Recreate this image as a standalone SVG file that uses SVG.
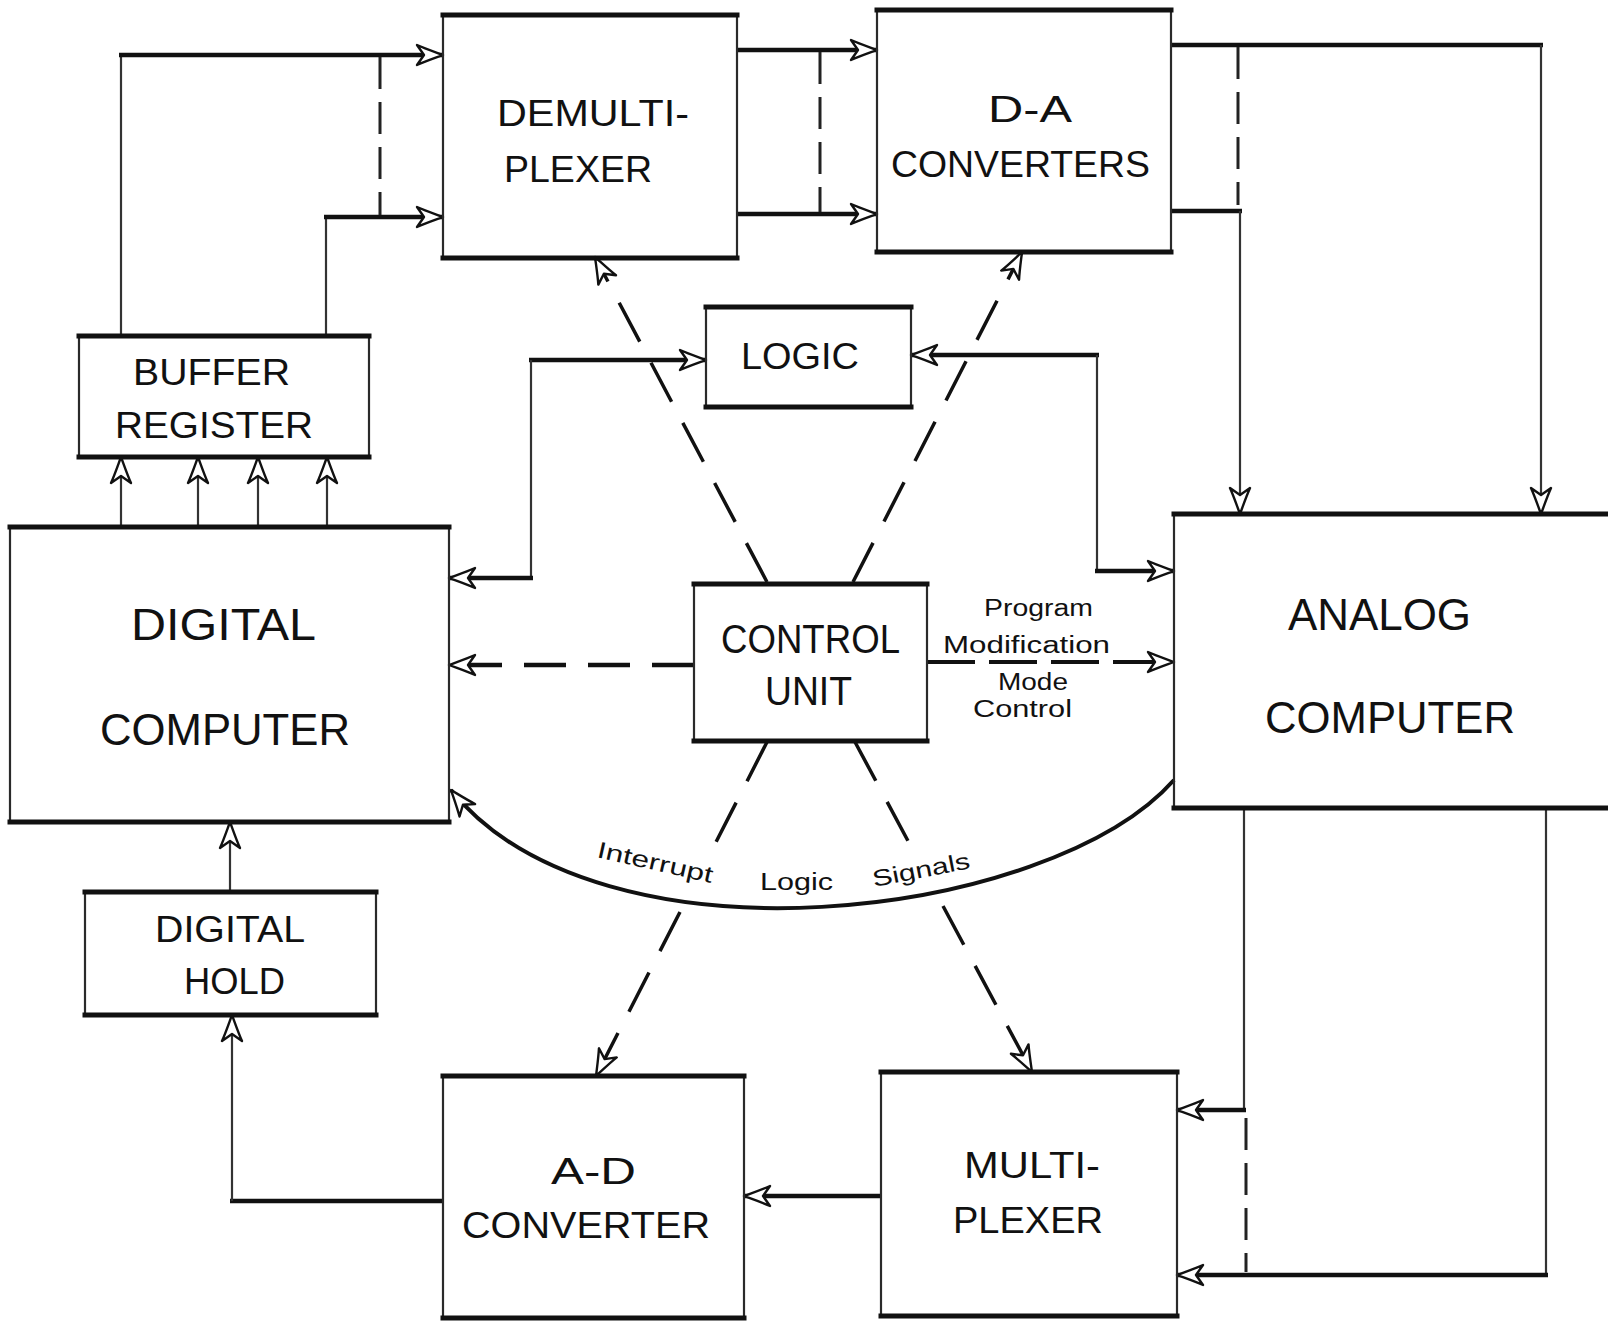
<svg xmlns="http://www.w3.org/2000/svg" width="1608" height="1321" viewBox="0 0 1608 1321">
<style>
.bg{fill:#fff}
.box{fill:none;stroke:#2a2a2a;stroke-width:2.2}
.edge{stroke:#111;stroke-width:5;stroke-linecap:square}
.big{font-family:"Liberation Sans","DejaVu Sans",sans-serif;font-size:37px;fill:#111}
.huge{font-family:"Liberation Sans","DejaVu Sans",sans-serif;font-size:44px;fill:#111}
.small{font-family:"Liberation Sans","DejaVu Sans",sans-serif;font-size:23px;fill:#111}
.h{fill:none;stroke:#111;stroke-width:4.5}
.v{fill:none;stroke:#333;stroke-width:2.2}
.dsh{fill:none;stroke:#111;stroke-width:3.5;stroke-dasharray:44 24}
.bus{fill:none;stroke:#222;stroke-width:3;stroke-dasharray:32 13}
.arr{marker-end:url(#ah)}
.curve{fill:none;stroke:#111;stroke-width:4}
</style>
<defs>
<marker id="ah" viewBox="-30 -12 32 24" refX="0" refY="0" markerWidth="32" markerHeight="24" markerUnits="userSpaceOnUse" orient="auto">
<path d="M0,0 C-8,-3 -17,-6 -26,-10 L-19,0 L-26,10 C-17,6 -8,3 0,0 Z" fill="#fff" stroke="#111" stroke-width="2.4" stroke-linejoin="round"/>
</marker>
</defs>
<rect class="bg" x="0" y="0" width="1608" height="1321"/>

<g id="connectors">
  <!-- buffer register to demultiplexer -->
  <path class="v" d="M121,336 V55"/>
  <path class="h arr" d="M119,55 H443"/>
  <path class="v" d="M326,336 V217"/>
  <path class="h arr" d="M324,217 H443"/>
  <path class="bus" d="M380,57 V215"/>
  <!-- demultiplexer to D-A -->
  <path class="h arr" d="M737,50 H877"/>
  <path class="h arr" d="M737,214 H877"/>
  <path class="bus" d="M820,52 V212"/>
  <!-- D-A to analog -->
  <path class="h" d="M1171,45 H1543"/>
  <path class="v arr" d="M1541,45 V514"/>
  <path class="h" d="M1171,211 H1242"/>
  <path class="v arr" d="M1240,211 V514"/>
  <path class="bus" d="M1238,47 V205"/>
  <!-- digital computer <-> logic -->
  <path class="h arr" d="M529,360 H706"/>
  <path class="v" d="M531,360 V578"/>
  <path class="h arr" d="M533,578 H449"/>
  <!-- logic <-> analog -->
  <path class="h arr" d="M1099,355 H911"/>
  <path class="v" d="M1097,355 V571"/>
  <path class="h arr" d="M1095,571 H1174"/>
  <!-- control unit dashed -->
  <path class="dsh arr" style="stroke-width:4.5;stroke-dasharray:42 22" d="M694,665 H449"/>
  <path class="dsh arr" style="stroke-width:4;stroke-dasharray:48 14" d="M927,662 H1174"/>
  <path class="dsh arr" d="M767,582 L595,257"/>
  <path class="dsh arr" d="M853,582 L1022,252"/>
  <path class="dsh" d="M767,742 L713,848"/>
  <path class="dsh arr" d="M680,912 L596,1076"/>
  <path class="dsh" d="M855,742 L908.6,842"/>
  <path class="dsh arr" d="M943,906 L1032,1072"/>
  <!-- interrupt curve -->
  <path class="curve arr" d="M1174,780 C1050,920 600,975 451,790"/>
  <!-- digital computer to buffer -->
  <path class="v arr" d="M121,527 V457"/>
  <path class="v arr" d="M198,527 V457"/>
  <path class="v arr" d="M258,527 V457"/>
  <path class="v arr" d="M327,527 V457"/>
  <!-- digital hold to digital computer -->
  <path class="v arr" d="M230,892 V822"/>
  <!-- A-D to digital hold -->
  <path class="h" d="M443,1201 H230"/>
  <path class="v arr" d="M232,1201 V1015"/>
  <!-- multiplexer to A-D -->
  <path class="h arr" d="M881,1196 H744"/>
  <!-- analog to multiplexer -->
  <path class="v" d="M1244,808 V1110"/>
  <path class="h arr" d="M1246,1110 H1177"/>
  <path class="v" d="M1546,808 V1275"/>
  <path class="h arr" d="M1548,1275 H1177"/>
  <path class="bus" d="M1246,1118 V1272"/>
</g>

<g id="demultiplexer">
  <rect class="box" x="443" y="15" width="294" height="243"/>
  <path class="edge" d="M443,15 H737 M443,258 H737"/>
  <text class="big" x="497" y="126" textLength="192" lengthAdjust="spacingAndGlyphs">DEMULTI-</text>
  <text class="big" x="504" y="182" textLength="148" lengthAdjust="spacingAndGlyphs">PLEXER</text>
</g>
<g id="da-converters">
  <rect class="box" x="877" y="10" width="294" height="242"/>
  <path class="edge" d="M877,10 H1171 M877,252 H1171"/>
  <text class="big" x="988" y="122" textLength="84" lengthAdjust="spacingAndGlyphs">D-A</text>
  <text class="big" x="891" y="177" textLength="259" lengthAdjust="spacingAndGlyphs">CONVERTERS</text>
</g>
<g id="logic">
  <rect class="box" x="706" y="307" width="205" height="100"/>
  <path class="edge" d="M706,307 H911 M706,407 H911"/>
  <text class="big" x="741" y="369" textLength="118" lengthAdjust="spacingAndGlyphs">LOGIC</text>
</g>
<g id="buffer-register">
  <rect class="box" x="79" y="336" width="290" height="121"/>
  <path class="edge" d="M79,336 H369 M79,457 H369"/>
  <text class="big" x="133" y="385" textLength="157" lengthAdjust="spacingAndGlyphs">BUFFER</text>
  <text class="big" x="115" y="438" textLength="198" lengthAdjust="spacingAndGlyphs">REGISTER</text>
</g>
<g id="digital-computer">
  <rect class="box" x="10" y="527" width="439" height="295"/>
  <path class="edge" d="M10,527 H449 M10,822 H449"/>
  <text class="huge" x="131" y="640" textLength="185" lengthAdjust="spacingAndGlyphs">DIGITAL</text>
  <text class="huge" x="100" y="745" textLength="250" lengthAdjust="spacingAndGlyphs">COMPUTER</text>
</g>
<g id="control-unit">
  <rect class="box" x="694" y="584" width="233" height="157"/>
  <path class="edge" d="M694,584 H927 M694,741 H927"/>
  <text class="big" x="721" y="653" textLength="179" lengthAdjust="spacingAndGlyphs" style="font-size:40px">CONTROL</text>
  <text class="big" x="765" y="705" textLength="87" lengthAdjust="spacingAndGlyphs" style="font-size:40px">UNIT</text>
  <text class="small" x="984" y="616" textLength="109" lengthAdjust="spacingAndGlyphs">Program</text>
  <text class="small" x="943" y="653" textLength="167" lengthAdjust="spacingAndGlyphs">Modification</text>
  <text class="small" x="998" y="690" textLength="70" lengthAdjust="spacingAndGlyphs">Mode</text>
  <text class="small" x="973" y="717" textLength="99" lengthAdjust="spacingAndGlyphs">Control</text>
</g>
<g id="analog-computer">
  <rect class="box" x="1174" y="514" width="460" height="294"/>
  <path class="edge" d="M1174,514 H1610 M1174,808 H1610"/>
  <text class="huge" x="1288" y="630" textLength="183" lengthAdjust="spacingAndGlyphs">ANALOG</text>
  <text class="huge" x="1265" y="733" textLength="250" lengthAdjust="spacingAndGlyphs">COMPUTER</text>
</g>
<g id="interrupt-labels">
  <text class="small" transform="translate(596,857) rotate(12.7)" textLength="118" lengthAdjust="spacingAndGlyphs">Interrupt</text>
  <text class="small" x="760" y="890" textLength="73" lengthAdjust="spacingAndGlyphs">Logic</text>
  <text class="small" transform="translate(874,887) rotate(-11)" textLength="99" lengthAdjust="spacingAndGlyphs">Signals</text>
</g>
<g id="digital-hold">
  <rect class="box" x="85" y="892" width="291" height="123"/>
  <path class="edge" d="M85,892 H376 M85,1015 H376"/>
  <text class="big" x="155" y="942" textLength="150" lengthAdjust="spacingAndGlyphs">DIGITAL</text>
  <text class="big" x="184" y="994" textLength="101" lengthAdjust="spacingAndGlyphs">HOLD</text>
</g>
<g id="ad-converter">
  <rect class="box" x="443" y="1076" width="301" height="242"/>
  <path class="edge" d="M443,1076 H744 M443,1318 H744"/>
  <text class="big" x="551" y="1184" textLength="85" lengthAdjust="spacingAndGlyphs">A-D</text>
  <text class="big" x="462" y="1238" textLength="248" lengthAdjust="spacingAndGlyphs">CONVERTER</text>
</g>
<g id="multiplexer">
  <rect class="box" x="881" y="1072" width="296" height="244"/>
  <path class="edge" d="M881,1072 H1177 M881,1316 H1177"/>
  <text class="big" x="964" y="1178" textLength="136" lengthAdjust="spacingAndGlyphs">MULTI-</text>
  <text class="big" x="953" y="1233" textLength="150" lengthAdjust="spacingAndGlyphs">PLEXER</text>
</g>
</svg>
